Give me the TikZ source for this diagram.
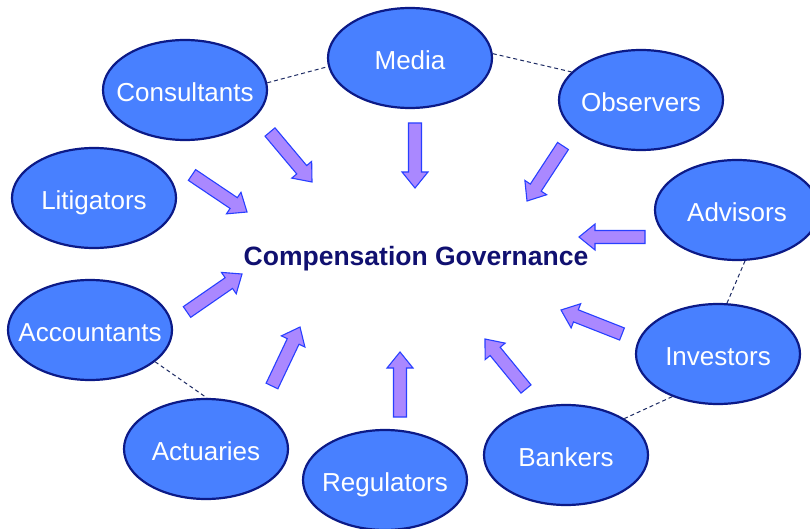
\documentclass[tikz,border=0pt]{standalone}
\usepackage{fontspec}
\setmainfont{Liberation Sans}
\usetikzlibrary{calc,shapes.geometric}

\definecolor{partyfill}{RGB}{72,128,255}
\definecolor{partyline}{RGB}{12,26,135}
\definecolor{arrowfill}{RGB}{170,136,255}
\definecolor{arrowline}{RGB}{40,64,255}
\definecolor{titlecol}{RGB}{16,16,112}
\definecolor{linkcol}{RGB}{30,44,100}

\tikzset{
  party/.style={ellipse, draw=partyline, line width=2.2pt, fill=partyfill,
    minimum width=164pt, minimum height=100pt, inner sep=0pt,
    text=white, font=\fontsize{26}{30}\selectfont},
  link/.style={draw=linkcol, line width=1pt, dash pattern=on 4pt off 3pt},
  barrow/.style={draw=arrowline, fill=arrowfill, line width=1.1pt, line join=miter},
}

% label kept out of the ellipse size computation, capitals centred slightly low
\newcommand\plabel[1]{\raisebox{-11.5pt}[0pt][0pt]{\makebox[0pt][c]{#1}}}

% block arrow from tail coordinate #1 to tip coordinate #2
\newcommand\blockarrow[2]{%
  \coordinate (hb) at ($(#2)!16pt!(#1)$);
  \draw[barrow] ($(#1)!6.5pt!90:(#2)$) -- ($(hb)!6.5pt!-90:(#1)$)
    -- ($(hb)!13pt!-90:(#1)$) -- (#2) -- ($(hb)!13pt!90:(#1)$)
    -- ($(hb)!6.5pt!90:(#1)$) -- ($(#1)!6.5pt!-90:(#2)$) -- cycle;
}

\begin{document}
\begin{tikzpicture}[x=1pt, y=-1pt]
\useasboundingbox (0,0) rectangle (810,529);
\clip (0,0) rectangle (810,529);
\fill[white] (0,0) rectangle (810,529);

% the parties around the centre
\node[party] (media) at (410,58) {\plabel{Media}};
\node[party] (consultants) at (185,90) {\plabel{Consultants}};
\node[party] (observers) at (641,100) {\plabel{Observers}};
\node[party] (litigators) at (94,198) {\plabel{Litigators}};
\node[party] (advisors) at (737,210) {\plabel{Advisors}};
\node[party] (investors) at (718,354) {\plabel{Investors}};
\node[party] (accountants) at (90,330) {\plabel{Accountants}};
\node[party] (actuaries) at (206,449) {\plabel{Actuaries}};
\node[party] (regulators) at (385,480) {\plabel{Regulators}};
\node[party] (bankers) at (566,455) {\plabel{Bankers}};

% dashed links between neighbouring parties
\draw[link] (consultants.5) -- (media.186);
\draw[link] (media.3) -- (observers.158);
\draw[link] (advisors.-81) -- (investors.80);
\draw[link] (investors.223) -- (bankers.32);
\draw[link] (accountants.-26) -- (actuaries.89);

\node[font=\bfseries\fontsize{26.5}{30}\selectfont, text=titlecol] (gov) at (416,259) {Compensation Governance};

% arrows pointing in towards the centre
\coordinate (t1) at (270,132);  \coordinate (h1) at (312,182);
\coordinate (t2) at (415,123);  \coordinate (h2) at (415,188);
\coordinate (t3) at (563,146);  \coordinate (h3) at (527,201);
\coordinate (t4) at (192,175);  \coordinate (h4) at (247,212);
\coordinate (t5) at (645,237);  \coordinate (h5) at (579,237);
\coordinate (t6) at (187,312);  \coordinate (h6) at (242,274);
\coordinate (t7) at (622,334);  \coordinate (h7) at (561,310);
\coordinate (t8) at (272,386);  \coordinate (h8) at (300,327);
\coordinate (t9) at (400,417);  \coordinate (h9) at (400,352);
\coordinate (t10) at (526,389); \coordinate (h10) at (485,339);
\blockarrow{t1}{h1}
\blockarrow{t2}{h2}
\blockarrow{t3}{h3}
\blockarrow{t4}{h4}
\blockarrow{t5}{h5}
\blockarrow{t6}{h6}
\blockarrow{t7}{h7}
\blockarrow{t8}{h8}
\blockarrow{t9}{h9}
\blockarrow{t10}{h10}
\end{tikzpicture}
\end{document}
